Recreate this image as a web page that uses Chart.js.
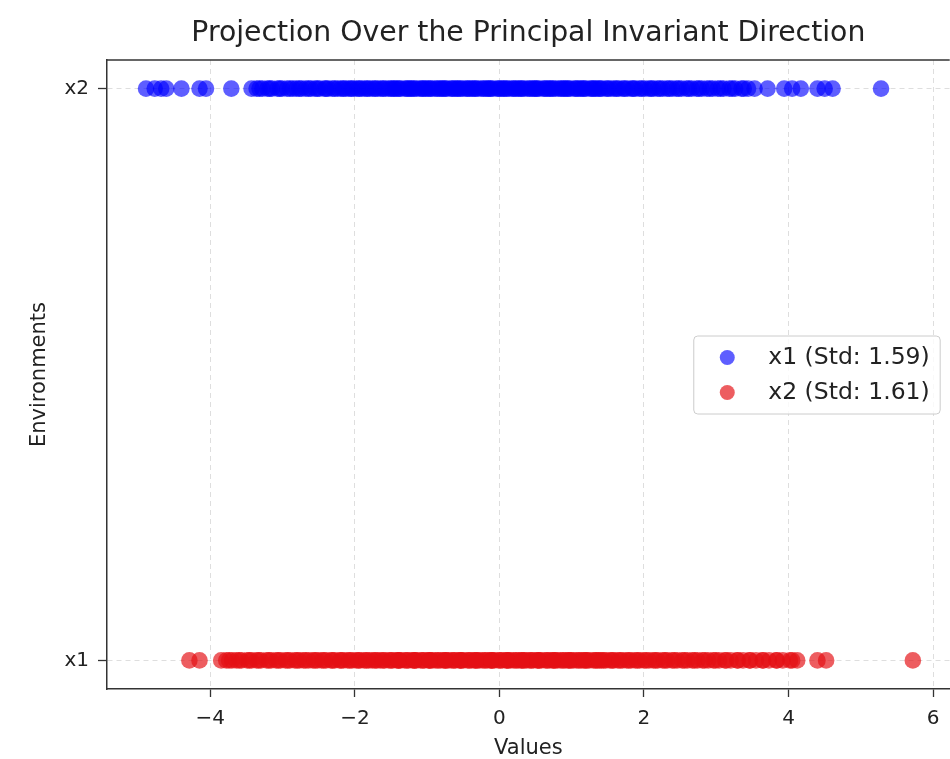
<!DOCTYPE html>
<html>
<head>
<meta charset="utf-8">
<script src="https://cdn.jsdelivr.net/npm/chart.js@4"></script>
<style>
  html, body { margin: 0; padding: 0; background: #ffffff; overflow: hidden; }
  #wrap { width: 950px; height: 759px; position: relative; overflow: hidden; }
  #c { display: block; }
</style>
</head>
<body>
<div id="wrap"><canvas id="c" width="958" height="759"></canvas></div>
<script>
const chartTitle = 'Projection Over the Principal Invariant Direction';
const xAxisTitle = 'Values';
const yAxisTitle = 'Environments';
const categories = ['x1', 'x2'];
const seriesLabels = ['x1 (Std: 1.59)', 'x2 (Std: 1.61)'];
const xTicks = [-4, -2, 0, 2, 4, 6];

// blue series, drawn on row "x2"
const blueValues = [
  -4.89, -4.77, -4.68, -4.61, -4.40, -4.15, -4.06, -3.71,
  -3.43, -3.36, -3.28, -3.21, -3.15, -3.07, -3.01, -2.94, -2.86, -2.81,
  -2.74, -2.68, -2.61, -2.55, -2.49, -2.42, -2.37, -2.31, -2.24, -2.19,
  -2.13, -2.08, -2.02, -1.97, -1.91, -1.86, -1.80, -1.75, -1.69, -1.64,
  -1.58, -1.53, -1.47, -1.42, -1.37, -1.31, -1.26, -1.21, -1.15, -1.10,
  -1.05, -0.99, -0.94, -0.89, -0.83, -0.78, -0.73, -0.67, -0.62, -0.57,
  -0.51, -0.46, -0.41, -0.35, -0.30, -0.25, -0.19, -0.14, -0.09, -0.03,
  0.02, 0.07, 0.13, 0.18, 0.23, 0.29, 0.34, 0.39, 0.45, 0.50,
  0.55, 0.61, 0.66, 0.71, 0.77, 0.82, 0.88, 0.93, 0.98, 1.04,
  1.09, 1.15, 1.20, 1.26, 1.31, 1.37, 1.42, 1.48, 1.54, 1.59,
  1.65, 1.71, 1.77, 1.83, 1.88, 1.94, 2.01, 2.07, 2.13, 2.19,
  2.26, 2.32, 2.39, 2.45, 2.52, 2.59, 2.66, 2.73, 2.80, 2.87,
  2.95, 3.02, 3.10, 3.18, 3.26, 3.35, 3.44, 3.53,
  -3.32, -3.18, -3.04, -2.90, -2.77, -2.64, -2.52, -2.40, -2.28, -2.16,
  -2.05, -1.94, -1.83, -1.72, -1.61, -1.50, -1.39, -1.28, -1.18, -1.07,
  -0.96, -0.86, -0.75, -0.65, -0.54, -0.44, -0.33, -0.22, -0.12, -0.01,
  0.10, 0.20, 0.31, 0.42, 0.52, 0.63, 0.74, 0.85, 0.95, 1.06,
  1.17, 1.28, 1.39, 1.50, 1.62, 1.73, 1.85, 1.97, 2.10, 2.22,
  2.35, 2.48, 2.62, 2.76, 2.91, 3.06, 3.22, 3.38,
  -1.45, -1.23, -1.02, -0.80, -0.59, -0.38, -0.16, 0.05, 0.26, 0.48,
  0.69, 0.90, 1.12, 1.33,
  3.71, 3.94, 4.05, 4.17, 4.40, 4.50, 4.61, 5.28
];

// red series, drawn on row "x1"
const redValues = [
  -4.29, -4.15,
  -3.85, -3.78, -3.70, -3.64, -3.57, -3.49, -3.43, -3.36, -3.30, -3.22,
  -3.16, -3.09, -3.03, -2.96, -2.90, -2.83, -2.77, -2.71, -2.64, -2.58,
  -2.52, -2.46, -2.40, -2.33, -2.28, -2.21, -2.16, -2.10, -2.04, -1.98,
  -1.93, -1.87, -1.81, -1.76, -1.70, -1.65, -1.59, -1.53, -1.48, -1.42,
  -1.37, -1.31, -1.26, -1.20, -1.15, -1.09, -1.04, -0.98, -0.93, -0.88,
  -0.82, -0.77, -0.71, -0.66, -0.61, -0.55, -0.50, -0.44, -0.39, -0.34,
  -0.28, -0.23, -0.17, -0.12, -0.07, -0.01, 0.04, 0.10, 0.15, 0.20,
  0.26, 0.31, 0.37, 0.42, 0.47, 0.53, 0.58, 0.64, 0.69, 0.75,
  0.80, 0.85, 0.91, 0.96, 1.02, 1.07, 1.13, 1.19, 1.24, 1.30,
  1.35, 1.41, 1.47, 1.53, 1.58, 1.64, 1.70, 1.76, 1.82, 1.88,
  1.94, 2.00, 2.07, 2.13, 2.19, 2.26, 2.32, 2.39, 2.46, 2.53,
  2.60, 2.67, 2.74, 2.81, 2.89, 2.96, 3.04, 3.12, 3.20, 3.29,
  3.37, 3.46, 3.55, 3.64, 3.73, 3.83, 3.92, 4.02, 4.12,
  -3.74, -3.60, -3.46, -3.33, -3.19, -3.06, -2.93, -2.80, -2.68, -2.55,
  -2.43, -2.31, -2.19, -2.07, -1.95, -1.84, -1.72, -1.61, -1.50, -1.39,
  -1.28, -1.17, -1.06, -0.96, -0.85, -0.74, -0.63, -0.53, -0.42, -0.31,
  -0.20, -0.10, 0.01, 0.12, 0.23, 0.34, 0.44, 0.55, 0.66, 0.77,
  0.88, 0.99, 1.10, 1.21, 1.33, 1.44, 1.56, 1.67, 1.79, 1.91,
  2.03, 2.16, 2.29, 2.42, 2.56, 2.70, 2.84, 2.99, 3.14, 3.30,
  3.47, 3.65, 3.84, 4.05,
  -1.40, -1.18, -0.97, -0.75, -0.54, -0.33, -0.11, 0.10, 0.31, 0.53,
  0.74, 0.96, 1.17, 1.38,
  4.40, 4.52, 5.72
];

const FONT = "'DejaVu Sans', 'Liberation Sans', sans-serif";
const TEXT = '#222222';
const SPINE = '#333333';
const blueFill = 'rgba(0,0,255,0.63)';
const redFill = 'rgba(228,16,20,0.68)';

const overlayPlugin = {
  id: 'overlay',
  afterDraw(chart) {
    const ctx = chart.ctx;
    const a = chart.chartArea;
    ctx.save();
    // top spine
    ctx.strokeStyle = SPINE;
    ctx.lineWidth = 1.5;
    ctx.beginPath();
    ctx.moveTo(a.left, a.top);
    ctx.lineTo(a.right, a.top);
    ctx.stroke();
    // title
    ctx.fillStyle = TEXT;
    ctx.font = '28.3px ' + FONT;
    ctx.textAlign = 'center';
    ctx.textBaseline = 'middle';
    ctx.fillText(chartTitle, (a.left + a.right) / 2, 34);
    // legend
    ctx.font = '23.5px ' + FONT;
    const tw = Math.max(...seriesLabels.map(s => ctx.measureText(s).width));
    const bw = 75 + tw + 10;
    const bh = 78;
    const bx = a.right - 10 - bw;
    const by = (a.top + a.bottom) / 2 - bh / 2;
    ctx.fillStyle = 'rgba(255,255,255,0.8)';
    ctx.strokeStyle = '#cccccc';
    ctx.lineWidth = 1;
    ctx.beginPath();
    ctx.roundRect(bx + 0.5, by + 0.5, bw, bh, 4);
    ctx.fill();
    ctx.stroke();
    const fills = [blueFill, redFill];
    seriesLabels.forEach((s, i) => {
      const cy = by + 22 + i * 35;
      ctx.fillStyle = fills[i];
      ctx.beginPath();
      ctx.arc(bx + 34, cy, 7.5, 0, Math.PI * 2);
      ctx.fill();
      ctx.fillStyle = TEXT;
      ctx.textAlign = 'left';
      ctx.textBaseline = 'middle';
      ctx.fillText(s, bx + 75, cy);
    });
    ctx.restore();
  }
};

const chart = new Chart(document.getElementById('c'), {
  type: 'scatter',
  data: {
    datasets: [
      {
        label: seriesLabels[0],
        data: blueValues.map(v => ({ x: v, y: categories.indexOf('x2') })),
        backgroundColor: blueFill,
        borderWidth: 0,
        pointRadius: 8.3,
        pointHoverRadius: 8.3
      },
      {
        label: seriesLabels[1],
        data: redValues.map(v => ({ x: v, y: categories.indexOf('x1') })),
        backgroundColor: redFill,
        borderWidth: 0,
        pointRadius: 8.3,
        pointHoverRadius: 8.3
      }
    ]
  },
  options: {
    responsive: false,
    animation: false,
    events: [],
    layout: { padding: { top: 60, left: 0, right: 0, bottom: 0 } },
    plugins: {
      legend: { display: false },
      title: { display: false },
      tooltip: { enabled: false }
    },
    scales: {
      x: {
        type: 'linear',
        min: -5.43,
        max: 6.23,
        afterBuildTicks: s => { s.ticks = xTicks.map(v => ({ value: v })); },
        afterFit: s => { s.height = 70; },
        grid: {
          color: 'rgba(0,0,0,0.13)',
          lineWidth: 1,
          tickColor: SPINE,
          tickLength: 8,
          tickWidth: 1.3
        },
        border: { display: true, color: SPINE, width: 1.5, dash: [5, 4] },
        ticks: {
          color: TEXT,
          font: { family: FONT, size: 20 },
          padding: 10,
          maxRotation: 0,
          callback: v => (v < 0 ? '\u2212' + Math.abs(v) : String(v))
        },
        title: {
          display: true,
          text: xAxisTitle,
          color: TEXT,
          font: { family: FONT, size: 21, lineHeight: 1.0 },
          padding: { top: 0, bottom: 0 }
        }
      },
      y: {
        type: 'linear',
        min: -0.05,
        max: 1.05,
        afterBuildTicks: s => { s.ticks = categories.map((c, i) => ({ value: i })); },
        afterFit: s => { s.width = 107; s.paddingTop = 0; s.paddingBottom = 0; },
        grid: {
          color: 'rgba(0,0,0,0.13)',
          lineWidth: 1,
          tickColor: SPINE,
          tickLength: 9,
          tickWidth: 1.3
        },
        border: { display: true, color: SPINE, width: 1.5, dash: [5, 4] },
        ticks: {
          color: TEXT,
          font: { family: FONT, size: 20 },
          padding: 9,
          callback: v => categories[v]
        },
        title: {
          display: true,
          text: yAxisTitle,
          color: TEXT,
          font: { family: FONT, size: 21, lineHeight: 1.0 },
          padding: { top: 29, bottom: 0 }
        }
      }
    }
  },
  plugins: [overlayPlugin]
});
</script>
</body>
</html>
